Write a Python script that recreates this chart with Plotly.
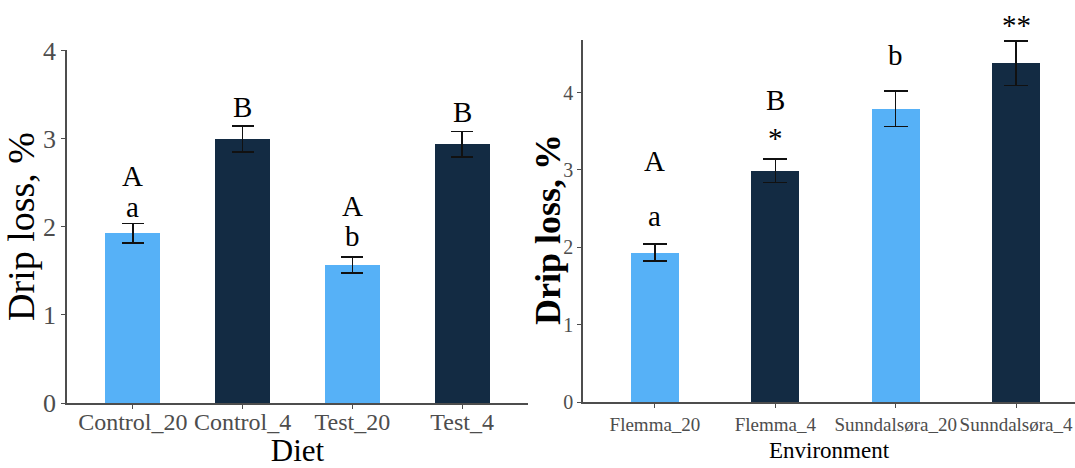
import plotly.graph_objects as go

# ---- data ----
diet_cats = ["Control_20", "Control_4", "Test_20", "Test_4"]
diet_vals = [1.93, 3.00, 1.57, 2.94]
diet_err = [0.11, 0.15, 0.09, 0.145]
diet_upper = ["A", "B", "A", "B"]
diet_upper_y = [2.58, 3.36, 2.24, 3.31]
diet_lower = ["a", "", "b", ""]
diet_lower_y = [2.23, None, 1.90, None]

env_cats = ["Flemma_20", "Flemma_4", "Sunndalsøra_20", "Sunndalsøra_4"]
env_vals = [1.93, 2.99, 3.79, 4.38]
env_err = [0.11, 0.15, 0.23, 0.29]
env_labels = ["A", "B", "", ""]
env_labels_y = [3.12, 3.90, None, None]
env_labels2 = ["a", "*", "b", "**"]
env_labels2_y = [2.41, 3.41, 4.49, 4.87]

light = "#56B1F7"
dark = "#132B43"
colors = [light, dark, light, dark]
axis_grey = "#4D4D4D"
serif = "Liberation Serif"

W, H = 1075, 468
Y1_MAX = 4.01
Y2_MAX = 4.68


def px_x(p):
    return p / W


def px_y(p):
    return 1 - p / H


fig = go.Figure()

fig.add_trace(go.Bar(
    x=diet_cats, y=diet_vals, marker=dict(color=colors, line=dict(width=0)),
    width=0.5,
    error_y=dict(type="data", array=diet_err, color="#111111", thickness=1.6, width=11),
    xaxis="x", yaxis="y", showlegend=False))

fig.add_trace(go.Bar(
    x=env_cats, y=env_vals, marker=dict(color=colors, line=dict(width=0)),
    width=0.4,
    error_y=dict(type="data", array=env_err, color="#111111", thickness=1.6, width=12),
    xaxis="x2", yaxis="y2", showlegend=False))

common_axis = dict(showgrid=False, zeroline=False, showline=True, linecolor=axis_grey,
                   linewidth=1.5, ticks="outside", ticklen=4, tickcolor=axis_grey,
                   tickwidth=1.2, automargin=False)

y1_dom = [px_y(403), px_y(50)]
y2_dom = [px_y(402), px_y(40)]

fig.update_layout(
    width=W, height=H, margin=dict(l=0, r=0, t=0, b=0, autoexpand=False),
    plot_bgcolor="white", paper_bgcolor="white",
    bargap=0,
    xaxis=dict(domain=[px_x(67), px_x(528)], range=[-0.6, 3.6], anchor="y",
               tickangle=0, ticklabelstandoff=-8,
               tickfont=dict(family=serif, size=24, color=axis_grey),
               title=dict(text="Diet", font=dict(family=serif, size=31, color="black"), standoff=10),
               **common_axis),
    yaxis=dict(domain=y1_dom, range=[0, Y1_MAX], anchor="x",
               tickvals=[0, 1, 2, 3, 4],
               tickfont=dict(family=serif, size=26, color=axis_grey),
               title=dict(text="Drip loss, %", font=dict(family=serif, size=38, color="black"), standoff=4),
               **common_axis),
    xaxis2=dict(domain=[px_x(583), 1.0], range=[-0.598, 3.49], anchor="y2",
                tickangle=0,
                tickfont=dict(family=serif, size=19, color=axis_grey),
                title=dict(text="Environment", font=dict(family=serif, size=23, color="black"), standoff=8),
                **common_axis),
    yaxis2=dict(domain=y2_dom, range=[0, Y2_MAX], anchor="x2",
                tickvals=[0, 1, 2, 3, 4],
                tickfont=dict(family=serif, size=20, color=axis_grey),
                **common_axis),
)

# right panel y-axis title (placed to match the reference position)
fig.add_annotation(text="<b>Drip loss, %</b>", textangle=-90, xref="paper", yref="paper",
                   x=px_x(548), y=px_y(230), xanchor="center", yanchor="middle",
                   showarrow=False, font=dict(family=serif, size=36, color="black"))

ann_font = dict(family=serif, size=29, color="black")


def add_labels(cats, texts, ys, xref, yref, ymax, px_per_unit):
    for c, t, yv in zip(cats, texts, ys):
        if not t:
            continue
        yy = min(yv, ymax)
        fig.add_annotation(x=c, y=yy, text=t, xref=xref, yref=yref, showarrow=False,
                           font=ann_font, yanchor="middle",
                           yshift=(yv - yy) * px_per_unit)


px1 = (403 - 50) / Y1_MAX
px2 = (402 - 40) / Y2_MAX
add_labels(diet_cats, diet_upper, diet_upper_y, "x", "y", Y1_MAX, px1)
add_labels(diet_cats, diet_lower, diet_lower_y, "x", "y", Y1_MAX, px1)
add_labels(env_cats, env_labels, env_labels_y, "x2", "y2", Y2_MAX, px2)
add_labels(env_cats, env_labels2, env_labels2_y, "x2", "y2", Y2_MAX, px2)

fig.write_html("out.html")
